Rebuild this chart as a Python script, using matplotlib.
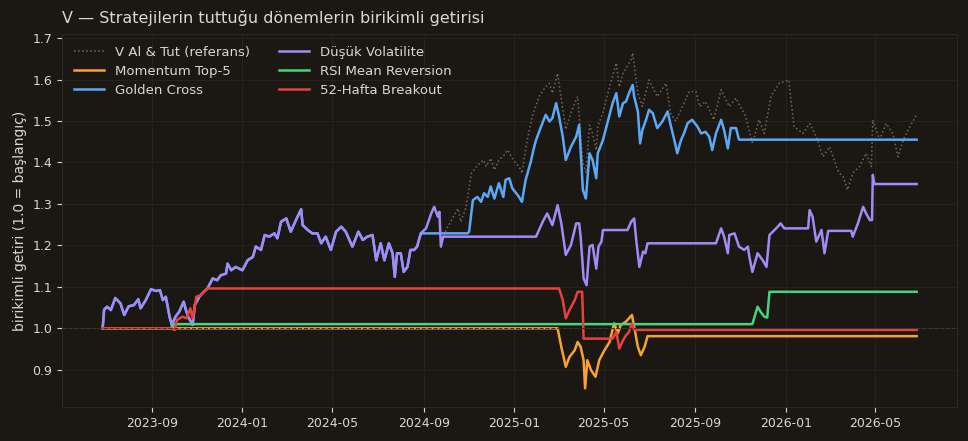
import matplotlib
matplotlib.use("Agg")
import matplotlib.pyplot as plt
import matplotlib.dates as mdates
import pandas as pd

# Düşük Volatilite (benchmark'la aynı yol 2024-09'a kadar)
lowvol_dates = [
    "2023-06-27", "2023-06-29", "2023-07-03", "2023-07-08", "2023-07-14", "2023-07-21", "2023-07-26",
    "2023-08-01", "2023-08-08", "2023-08-14", "2023-08-17", "2023-08-24", "2023-08-31", "2023-09-07",
    "2023-09-12", "2023-09-16", "2023-09-20", "2023-09-25", "2023-09-28", "2023-10-03", "2023-10-08",
    "2023-10-14", "2023-10-17", "2023-10-20", "2023-10-26", "2023-10-29", "2023-11-04", "2023-11-10",
    "2023-11-15", "2023-11-22", "2023-11-28", "2023-12-03", "2023-12-10", "2023-12-12", "2023-12-17",
    "2023-12-23", "2024-01-01", "2024-01-08", "2024-01-15", "2024-01-19", "2024-01-26", "2024-01-31",
    "2024-02-06", "2024-02-13", "2024-02-17", "2024-02-22", "2024-02-29", "2024-03-06", "2024-03-13",
    "2024-03-20", "2024-03-22", "2024-03-29", "2024-04-04", "2024-04-11", "2024-04-16", "2024-04-22",
    "2024-04-29", "2024-05-06", "2024-05-13", "2024-05-19", "2024-05-28", "2024-06-05", "2024-06-11",
    "2024-06-17", "2024-06-24", "2024-06-29", "2024-07-05", "2024-07-10", "2024-07-16", "2024-07-21",
    "2024-07-24", "2024-07-27", "2024-08-01", "2024-08-05", "2024-08-10", "2024-08-14", "2024-08-19",
    "2024-08-23", "2024-08-28", "2024-09-04", "2024-09-11", "2024-09-15", "2024-09-20", "2024-09-22",
    "2024-09-24", "2024-09-27", "2025-01-30", "2025-02-08", "2025-02-14", "2025-02-21", "2025-02-28",
    "2025-03-05", "2025-03-11", "2025-03-18", "2025-03-25", "2025-03-29", "2025-03-31", "2025-04-04",
    "2025-04-08", "2025-04-12", "2025-04-16", "2025-04-21", "2025-04-24", "2025-04-28", "2025-04-30",
    "2025-06-02", "2025-06-07", "2025-06-11", "2025-06-14", "2025-06-18", "2025-06-23", "2025-06-26",
    "2025-06-29", "2025-09-29", "2025-10-06", "2025-10-10", "2025-10-15", "2025-10-17", "2025-10-24",
    "2025-10-30", "2025-11-06", "2025-11-11", "2025-11-13", "2025-11-17", "2025-11-24", "2025-12-01",
    "2025-12-06", "2025-12-10", "2025-12-19", "2025-12-25", "2025-12-30", "2026-01-31", "2026-02-02",
    "2026-02-06", "2026-02-11", "2026-02-18", "2026-02-22", "2026-02-27", "2026-03-30", "2026-04-01",
    "2026-04-08", "2026-04-15", "2026-04-19", "2026-04-24", "2026-04-27", "2026-04-28", "2026-04-30",
    "2026-06-26",
]
lowvol_vals = [
    1.000, 1.045, 1.052, 1.044, 1.073, 1.060, 1.032,
    1.053, 1.056, 1.070, 1.048, 1.068, 1.094, 1.090,
    1.092, 1.068, 1.076, 1.028, 1.008, 1.028, 1.040,
    1.064, 1.044, 1.028, 1.008, 1.056, 1.076, 1.088,
    1.096, 1.120, 1.116, 1.128, 1.132, 1.156, 1.140,
    1.148, 1.140, 1.164, 1.172, 1.197, 1.189, 1.225,
    1.221, 1.229, 1.217, 1.257, 1.265, 1.233, 1.261,
    1.287, 1.249, 1.237, 1.229, 1.229, 1.205, 1.221,
    1.189, 1.233, 1.245, 1.233, 1.197, 1.233, 1.213,
    1.221, 1.225, 1.164, 1.205, 1.164, 1.205, 1.181,
    1.124, 1.181, 1.181, 1.136, 1.148, 1.189, 1.189,
    1.197, 1.229, 1.241, 1.277, 1.293, 1.269, 1.281,
    1.197, 1.221, 1.221, 1.257, 1.277, 1.249, 1.297,
    1.253, 1.177, 1.201, 1.253, 1.253, 1.221, 1.120,
    1.104, 1.197, 1.201, 1.144, 1.197, 1.209, 1.237,
    1.237, 1.257, 1.265, 1.209, 1.148, 1.185, 1.181,
    1.205, 1.205, 1.241, 1.221, 1.181, 1.225, 1.229,
    1.197, 1.189, 1.197, 1.172, 1.136, 1.181, 1.164,
    1.148, 1.225, 1.241, 1.253, 1.241, 1.241, 1.285,
    1.269, 1.209, 1.237, 1.181, 1.235, 1.235, 1.221,
    1.253, 1.293, 1.277, 1.261, 1.261, 1.370, 1.348,
    1.348,
]

# Golden Cross: 2024-08-28'e kadar benchmark ile aynı (mor çizginin altında kalıyor)
golden_dates = [
    "2024-10-30", "2024-11-01", "2024-11-06", "2024-11-12", "2024-11-17", "2024-11-21", "2024-11-26",
    "2024-11-30", "2024-12-05", "2024-12-11", "2024-12-17", "2024-12-20", "2024-12-25", "2024-12-29",
    "2025-01-07", "2025-01-11", "2025-01-16", "2025-01-23", "2025-01-27", "2025-01-30", "2025-02-05",
    "2025-02-12", "2025-02-17", "2025-02-21", "2025-02-26", "2025-03-02", "2025-03-07", "2025-03-11",
    "2025-03-18", "2025-03-25", "2025-03-29", "2025-04-03", "2025-04-07", "2025-04-12", "2025-04-16",
    "2025-04-21", "2025-04-23", "2025-04-30", "2025-05-06", "2025-05-13", "2025-05-18", "2025-05-22",
    "2025-05-27", "2025-05-31", "2025-06-04", "2025-06-09", "2025-06-11", "2025-06-16", "2025-06-19",
    "2025-06-22", "2025-06-27", "2025-07-01", "2025-07-06", "2025-07-12", "2025-07-19", "2025-07-26",
    "2025-07-30", "2025-08-04", "2025-08-08", "2025-08-13", "2025-08-17", "2025-08-22", "2025-08-28",
    "2025-09-04", "2025-09-09", "2025-09-15", "2025-09-20", "2025-09-24", "2025-09-29", "2025-10-06",
    "2025-10-10", "2025-10-15", "2025-10-19", "2025-10-26", "2025-10-30", "2026-06-26",
]
golden_vals = [
    1.229, 1.233, 1.309, 1.317, 1.305, 1.326, 1.317,
    1.342, 1.313, 1.350, 1.317, 1.358, 1.362, 1.338,
    1.317, 1.305, 1.358, 1.402, 1.434, 1.454, 1.483,
    1.515, 1.499, 1.507, 1.543, 1.511, 1.462, 1.406,
    1.438, 1.462, 1.491, 1.334, 1.313, 1.422, 1.406,
    1.362, 1.422, 1.454, 1.495, 1.543, 1.567, 1.511,
    1.543, 1.547, 1.567, 1.587, 1.559, 1.523, 1.446,
    1.478, 1.503, 1.527, 1.519, 1.483, 1.499, 1.523,
    1.491, 1.454, 1.422, 1.454, 1.470, 1.495, 1.503,
    1.487, 1.470, 1.474, 1.462, 1.430, 1.470, 1.503,
    1.478, 1.434, 1.483, 1.483, 1.455, 1.455,
]

# V Al & Tut: 2024-09-22'ye kadar Düşük Volatilite ile aynı
bh_dates = [
    "2024-09-27", "2024-10-01", "2024-10-08", "2024-10-17", "2024-10-21", "2024-10-28", "2024-11-04",
    "2024-11-11", "2024-11-20", "2024-11-24", "2024-11-30", "2024-12-05", "2024-12-11", "2024-12-18",
    "2024-12-23", "2024-12-29", "2025-01-10", "2025-01-11", "2025-01-18", "2025-01-25", "2025-02-03",
    "2025-02-12", "2025-02-17", "2025-02-21", "2025-02-28", "2025-03-05", "2025-03-11", "2025-03-18",
    "2025-03-23", "2025-03-27", "2025-04-03", "2025-04-07", "2025-04-12", "2025-04-16", "2025-04-21",
    "2025-04-23", "2025-04-30", "2025-05-09", "2025-05-18", "2025-05-22", "2025-05-27", "2025-06-07",
    "2025-06-09", "2025-06-16", "2025-06-22", "2025-07-01", "2025-07-12", "2025-07-24", "2025-07-30",
    "2025-08-06", "2025-08-15", "2025-08-24", "2025-09-02", "2025-09-07", "2025-09-15", "2025-09-26",
    "2025-10-06", "2025-10-17", "2025-10-26", "2025-11-08", "2025-11-17", "2025-11-26", "2025-12-03",
    "2025-12-12", "2025-12-23", "2026-01-05", "2026-01-12", "2026-01-24", "2026-02-02", "2026-02-11",
    "2026-02-20", "2026-03-01", "2026-03-10", "2026-03-14", "2026-03-19", "2026-03-25", "2026-04-01",
    "2026-04-10", "2026-04-19", "2026-04-26", "2026-04-28", "2026-05-07", "2026-05-16", "2026-05-25",
    "2026-06-01", "2026-06-08", "2026-06-17", "2026-06-26",
]
bh_vals = [
    1.215, 1.237, 1.260, 1.289, 1.257, 1.293, 1.374,
    1.390, 1.406, 1.390, 1.410, 1.382, 1.406, 1.418,
    1.430, 1.410, 1.382, 1.374, 1.454, 1.511, 1.559,
    1.583, 1.591, 1.567, 1.615, 1.551, 1.480, 1.519,
    1.543, 1.559, 1.400, 1.375, 1.490, 1.470, 1.430,
    1.487, 1.520, 1.583, 1.640, 1.582, 1.615, 1.648,
    1.664, 1.567, 1.535, 1.599, 1.559, 1.591, 1.519,
    1.500, 1.535, 1.571, 1.571, 1.535, 1.547, 1.503,
    1.575, 1.535, 1.555, 1.511, 1.446, 1.503, 1.470,
    1.559, 1.591, 1.599, 1.487, 1.470, 1.494, 1.462,
    1.414, 1.438, 1.390, 1.374, 1.366, 1.334, 1.374,
    1.390, 1.422, 1.390, 1.503, 1.455, 1.494, 1.470,
    1.414, 1.455, 1.487, 1.515,
]

momentum_dates = [
    "2023-06-27", "2025-02-28", "2025-03-05", "2025-03-11", "2025-03-16", "2025-03-23", "2025-03-27",
    "2025-03-31", "2025-04-04", "2025-04-06", "2025-04-09", "2025-04-14", "2025-04-20", "2025-04-25",
    "2025-05-02", "2025-05-09", "2025-05-15", "2025-05-20", "2025-05-24", "2025-05-31", "2025-06-04",
    "2025-06-08", "2025-06-11", "2025-06-16", "2025-06-20", "2025-06-25", "2025-06-29", "2026-06-26",
]
momentum_vals = [
    1.000, 1.000, 0.955, 0.907, 0.931, 0.947, 0.967,
    0.955, 0.923, 0.855, 0.923, 0.899, 0.883, 0.923,
    0.947, 0.967, 1.012, 0.988, 1.008, 1.016, 1.024,
    1.032, 1.004, 0.955, 0.935, 0.955, 0.981, 0.981,
]

rsi_dates = [
    "2023-06-27", "2023-09-26", "2023-10-02", "2025-11-17", "2025-11-24", "2025-11-28", "2025-12-03",
    "2025-12-07", "2025-12-10", "2026-06-26",
]
rsi_vals = [1.000, 1.000, 1.010, 1.010, 1.052, 1.040, 1.028, 1.026, 1.088, 1.088]

breakout_dates = [
    "2023-06-27", "2023-09-26", "2023-10-02", "2023-10-05", "2023-10-12", "2023-10-18", "2023-10-23",
    "2023-10-26", "2023-10-31", "2023-11-06", "2023-11-10", "2023-11-15", "2025-03-02", "2025-03-07",
    "2025-03-11", "2025-03-16", "2025-03-23", "2025-03-27", "2025-04-02", "2025-04-04", "2025-05-13",
    "2025-05-18", "2025-05-22", "2025-05-27", "2025-05-31", "2025-06-04", "2025-06-08", "2025-06-11",
    "2026-06-26",
]
breakout_vals = [
    1.000, 1.000, 0.996, 1.020, 1.028, 1.024, 1.048,
    1.024, 1.076, 1.080, 1.088, 1.096, 1.096, 1.068,
    1.024, 1.044, 1.068, 1.088, 1.088, 0.975, 0.975,
    0.991, 0.951, 0.971, 0.983, 0.991, 1.012, 0.996,
    0.996,
]

BG = "#1b1814"
FG = "#ddd6cb"

# gizli ortak başlangıç kısımları
cut_gc = lowvol_dates.index("2024-08-28") + 1
cut_bh = lowvol_dates.index("2024-09-24") + 1
gc_d = pd.to_datetime(lowvol_dates[:cut_gc] + golden_dates)
gc_v = lowvol_vals[:cut_gc] + golden_vals
bh_d = pd.to_datetime(lowvol_dates[:cut_bh] + bh_dates)
bh_v = lowvol_vals[:cut_bh] + bh_vals

fig, ax = plt.subplots(figsize=(9.68, 4.41), dpi=100)
fig.patch.set_facecolor(BG)
ax.set_facecolor(BG)
fig.subplots_adjust(left=0.064, right=0.989, top=0.923, bottom=0.077)

ax.plot(bh_d, bh_v, ls=":", color="#6e6861", lw=1.1, label="V Al & Tut (referans)")
ax.plot(pd.to_datetime(momentum_dates), momentum_vals, color="#f9a233", lw=1.8, label="Momentum Top-5")
ax.plot(gc_d, gc_v, color="#5ba8f7", lw=1.8, label="Golden Cross")
ax.plot(pd.to_datetime(lowvol_dates), lowvol_vals, color="#a08cf7", lw=1.8, label="Düşük Volatilite")
ax.plot(pd.to_datetime(rsi_dates), rsi_vals, color="#45d57e", lw=1.8, label="RSI Mean Reversion")
ax.plot(pd.to_datetime(breakout_dates), breakout_vals, color="#e8413f", lw=1.8, label="52-Hafta Breakout")
ax.axhline(1.0, color="#3a3530", lw=0.8, ls="--", zorder=5)

ax.set_ylim(0.81, 1.71)
ax.xaxis.set_major_locator(mdates.MonthLocator(bymonth=(1, 5, 9)))
ax.xaxis.set_major_formatter(mdates.DateFormatter("%Y-%m"))

ax.grid(True, color="#27231f", lw=0.6)
ax.set_axisbelow(True)
for s in ax.spines.values():
    s.set_color("#2c2824")
ax.tick_params(colors=FG, labelsize=9, length=3.5)

ax.set_title("V — Stratejilerin tuttuğu dönemlerin birikimli getirisi", loc="left",
             color=FG, fontsize=11.5, pad=8)
ax.set_ylabel("birikimli getiri (1.0 = başlangıç)", color=FG, fontsize=10)

leg = ax.legend(loc="upper left", ncol=2, frameon=False, fontsize=9.5,
                columnspacing=2.2, handlelength=2.3, labelspacing=0.45)
for t in leg.get_texts():
    t.set_color(FG)

plt.savefig("out.png", facecolor=BG)
